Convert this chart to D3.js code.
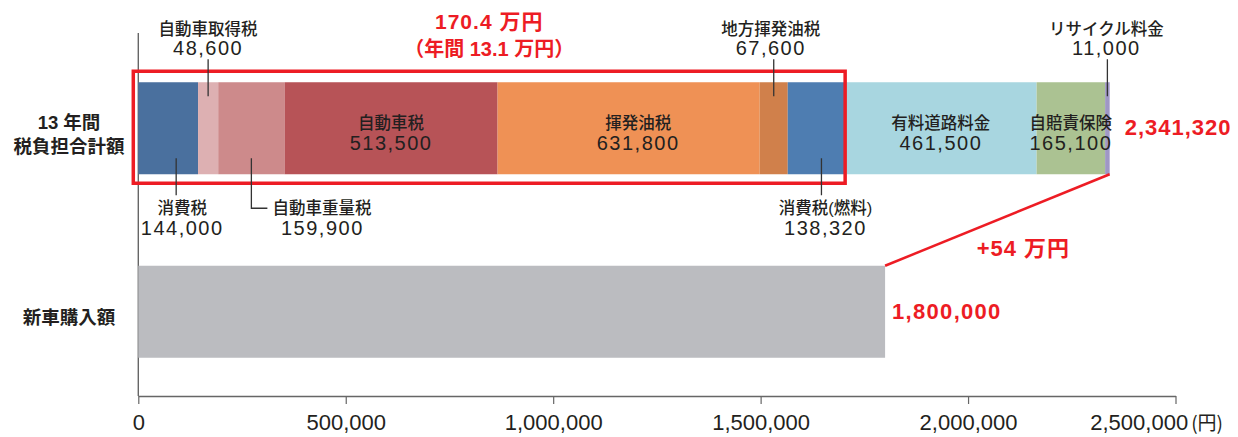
<!DOCTYPE html>
<html><head><meta charset="utf-8">
<script src="https://cdn.jsdelivr.net/npm/d3@7"></script>
<style>
html,body{margin:0;padding:0;background:#fff;}
svg{display:block;font-family:"Liberation Sans","Noto Sans CJK JP",sans-serif;}
</style></head><body>
<svg id="chart" width="1238" height="437"></svg>
<script>
// ---------- data ----------
const categoryKeys = ["total", "purchase"];
const categoryLabels = [["13 年間", "税負担合計額"], ["新車購入額"]];
const costItems = ["消費税", "自動車取得税", "自動車重量税", "自動車税", "揮発油税", "地方揮発油税", "消費税(燃料)", "有料道路料金", "自賠責保険", "リサイクル料金"];
const costValues = [144000, 48600, 159900, 513500, 631800, 67600, 138320, 461500, 165100, 11000];
const purchaseValues = [1800000];
const xTickValues = [0, 500000, 1000000, 1500000, 2000000, 2500000];
const xUnitLabel = "(円)";
const taxItemCount = 7;
const ownershipYears = 13;

// ---------- style / layout ----------
const segmentColors = ["#4a709e", "#ddb0b2", "#cd8a8b", "#b75357", "#ef9155", "#d0804b", "#4e7db1", "#a8d6e0", "#abc292", "#9f97c5"];
const purchaseColor = "#bbbcc0";
const red = "#ed1c24";
const ink = "#231f20";
const labelPlacement = ["below", "above", "elbow", "inside", "inside", "above", "below", "inside", "inside", "above"];
const leaderShift = [8, 0, 0, 0, 0, 0, 5, 0, 0, 0];
const textShift = [14, 0, 0, 0, 9.5, -3, 9, 0, 0, -1];

const svg = d3.select("#chart");
const x = d3.scaleLinear().domain([0, 2500000]).range([138.3, 1175.5]);
const y = d3.scaleBand().domain(categoryKeys).range([36.5, 403.5]).paddingInner(0.4986).paddingOuter(0.2493);
const bw = y.bandwidth();
const axisY = 396;

const ends = d3.cumsum(costValues);
const segs = costItems.map((name, i) => ({
  name, value: costValues[i], start: ends[i] - costValues[i], end: ends[i], i
}));
const total = ends[ends.length - 1];
const taxSum = ends[taxItemCount - 1];
const fmt = d3.format(",");

// y axis line
svg.append("line")
  .attr("x1", x(0)).attr("x2", x(0))
  .attr("y1", y.range()[0] - 3.5).attr("y2", axisY)
  .attr("stroke", "#666").attr("stroke-width", 1.4);

// x axis
const xAxis = d3.axisBottom(x).tickValues(xTickValues).tickSize(8).tickSizeOuter(0).tickPadding(10).tickFormat(fmt);
const gx = svg.append("g").attr("transform", `translate(0,${axisY})`).call(xAxis);
gx.select(".domain").attr("stroke", "#666").attr("stroke-width", 1.4);
gx.selectAll(".tick line").attr("stroke", "#666").attr("stroke-width", 1.2);
gx.selectAll(".tick text")
  .attr("font-family", "Liberation Sans, sans-serif")
  .attr("font-size", 22).attr("fill", ink);
gx.selectAll(".tick").filter(d => d === xTickValues[xTickValues.length - 1])
  .select("text").attr("text-anchor", "end").attr("x", 47)
  .append("tspan").attr("dx", 3).attr("font-family", "Noto Sans CJK JP, sans-serif")
  .attr("font-size", 19).text(xUnitLabel);

// stacked bar
const topY = y("total");
svg.append("g").selectAll("rect").data(segs).join("rect")
  .attr("x", d => x(d.start)).attr("width", d => x(d.end) - x(d.start))
  .attr("y", topY).attr("height", bw)
  .attr("fill", (d, i) => segmentColors[i]);

// purchase bar
svg.append("g").selectAll("rect").data(purchaseValues).join("rect")
  .attr("x", x(0)).attr("width", d => x(d) - x(0))
  .attr("y", y("purchase")).attr("height", bw)
  .attr("fill", purchaseColor);

// red box around taxes
svg.append("rect")
  .attr("x", x(0) - 5).attr("y", topY - 11)
  .attr("width", x(taxSum) - x(0) + 5).attr("height", bw + 20)
  .attr("fill", "none").attr("stroke", red).attr("stroke-width", 3.5);

// category labels
categoryKeys.forEach((k, ci) => {
  const c = y(k) + bw / 2;
  const lines = categoryLabels[ci];
  const offs = lines.length === 2 ? [-6, 18] : [5.5];
  lines.forEach((t, li) => {
    svg.append("text").attr("x", 69).attr("y", c + offs[li])
      .attr("text-anchor", "middle").attr("dominant-baseline", "central")
      .attr("font-size", 18.5).attr("font-weight", "bold").attr("fill", ink).text(t);
  });
});

// segment labels
const bandTop = topY, bandBot = topY + bw, bandC = topY + bw / 2;
function nameText(xp, yp, t, anchor) {
  return svg.append("text").attr("x", xp).attr("y", yp)
    .attr("text-anchor", anchor || "middle").attr("dominant-baseline", "central")
    .attr("font-size", 16.5).attr("font-weight", 500).attr("fill", ink).text(t);
}
function valueText(xp, yp, t) {
  return svg.append("text").attr("x", xp).attr("y", yp)
    .attr("text-anchor", "middle").attr("dominant-baseline", "central")
    .attr("font-size", 20).attr("letter-spacing", "1.5px").attr("fill", ink).text(t);
}
function leader(pts) {
  svg.append("path").attr("d", d3.line()(pts))
    .attr("fill", "none").attr("stroke", "#333").attr("stroke-width", 1.3);
}
segs.forEach((d, i) => {
  const cx = x((d.start + d.end) / 2);
  const lx = cx + leaderShift[i];
  const tx = cx + textShift[i];
  const p = labelPlacement[i];
  if (p === "inside") {
    nameText(tx, bandC - 5, d.name);
    valueText(tx, bandC + 15, fmt(d.value));
  } else if (p === "above") {
    leader([[lx, bandTop - 23], [lx, bandTop + 14]]);
    nameText(tx, bandTop - 53, d.name);
    valueText(tx, bandTop - 34, fmt(d.value));
  } else if (p === "below") {
    leader([[lx, bandBot - 16], [lx, bandBot + 21]]);
    nameText(tx, bandBot + 34, d.name);
    valueText(tx, bandBot + 54, fmt(d.value));
  } else if (p === "elbow") {
    leader([[lx, bandBot - 16], [lx, bandBot + 34], [lx + 16, bandBot + 34]]);
    nameText(lx + 21, bandBot + 34, d.name, "start");
    valueText(lx + 71, bandBot + 54, fmt(d.value));
  }
});

// red annotations
const boxCx = (x(0) - 5 + x(taxSum)) / 2;
svg.append("text").attr("x", boxCx).attr("y", topY - 61)
  .attr("text-anchor", "middle").attr("dominant-baseline", "central")
  .attr("font-size", 21).attr("font-weight", "bold").attr("letter-spacing", "1px").attr("fill", red)
  .text(`${(taxSum / 10000).toFixed(1)} 万円`);
svg.append("text").attr("x", boxCx).attr("y", topY - 33)
  .attr("text-anchor", "middle").attr("dominant-baseline", "central")
  .attr("font-size", 20).attr("font-weight", "bold").attr("fill", red)
  .text(`（年間 ${(taxSum / ownershipYears / 10000).toFixed(1)} 万円）`);

svg.append("text").attr("x", x(total) + 15).attr("y", bandC - 1)
  .attr("dominant-baseline", "central")
  .attr("font-size", 22).attr("font-weight", "bold").attr("letter-spacing", "1px").attr("fill", red)
  .text(fmt(total));

const pY = y("purchase");
svg.append("text").attr("x", x(purchaseValues[0]) + 7).attr("y", pY + bw / 2)
  .attr("dominant-baseline", "central")
  .attr("font-size", 22).attr("font-weight", "bold").attr("letter-spacing", "1.3px").attr("fill", red)
  .text(fmt(purchaseValues[0]));

const p1 = [x(total), bandBot], p2 = [x(purchaseValues[0]), pY];
svg.append("line").attr("x1", p1[0]).attr("y1", p1[1]).attr("x2", p2[0]).attr("y2", p2[1])
  .attr("stroke", red).attr("stroke-width", 2.5);
const mid = [(p1[0] + p2[0]) / 2, (p1[1] + p2[1]) / 2];
svg.append("text").attr("x", mid[0] + 26).attr("y", mid[1] + 28)
  .attr("text-anchor", "middle").attr("dominant-baseline", "central")
  .attr("font-size", 22).attr("font-weight", "bold").attr("letter-spacing", "1px").attr("fill", red)
  .text(`+${Math.round((total - purchaseValues[0]) / 10000)} 万円`);
</script>
</body></html>
